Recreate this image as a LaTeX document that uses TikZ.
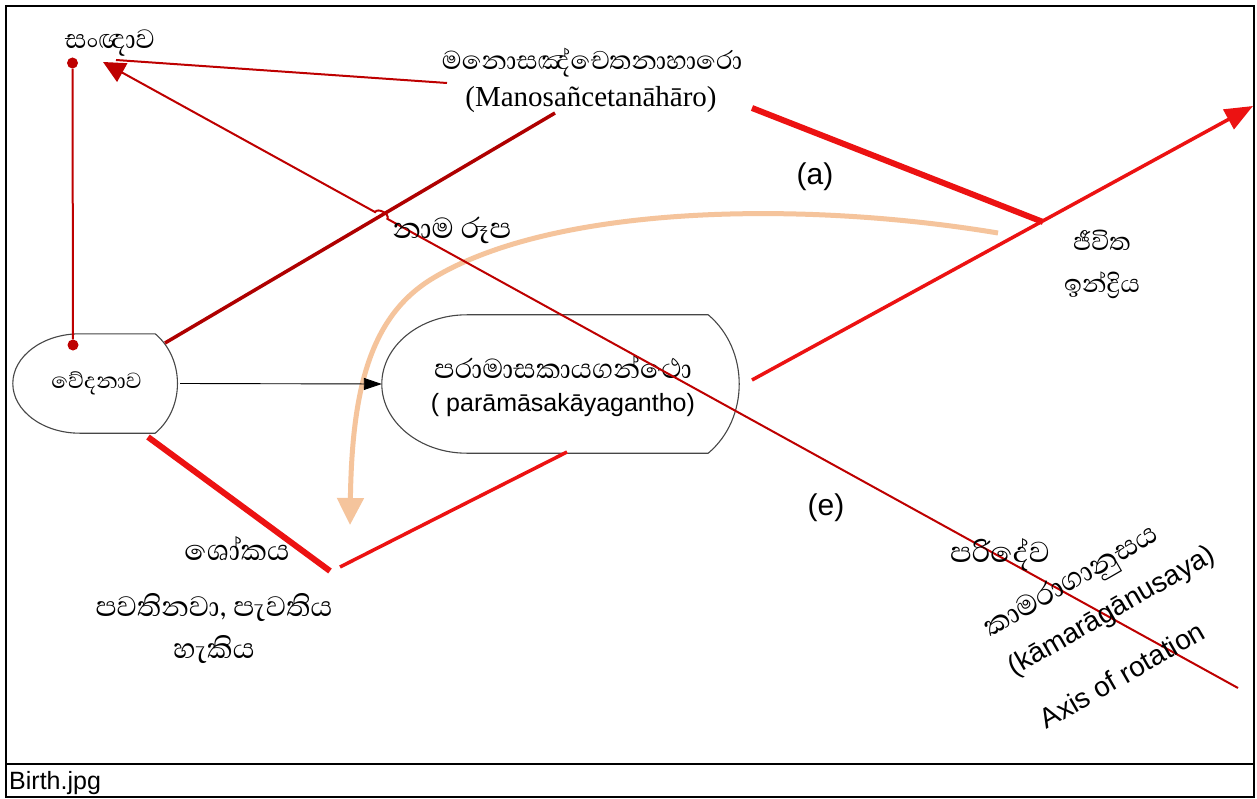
\documentclass[tikz,border=0pt]{standalone}
\usepackage{fontspec}
\setmainfont{Liberation Sans}
\newfontfamily\timesrm{Liberation Serif}
\newfontfamily\sinhalafont[Script=Sinhala]{Abhaya Libre}
\usetikzlibrary{arrows.meta,calc}

\definecolor{axisred}{RGB}{190,0,0}
\definecolor{linered}{RGB}{236,18,18}
\definecolor{peach}{RGB}{245,196,156}
\definecolor{shapegray}{RGB}{70,70,70}

\begin{document}
\begin{tikzpicture}[x=1pt,y=1pt,
  sin/.style={font=\sinhalafont\fontsize{#1}{42}\selectfont, inner sep=0pt, align=center},
  sin/.default=36,
  lat/.style={font=\fontsize{#1}{#1}\selectfont, inner sep=0pt},
  lat/.default=28,
  blob/.style={draw=none, rectangle, inner sep=0pt},
  outline/.style={draw=shapegray, line width=1.1pt, fill=white},
  dot/.style={circle, fill=axisred, inner sep=0pt, minimum size=11pt},
  thinred/.style={draw=axisred, line width=2pt},
  darkline/.style={draw=axisred!92!black, line width=3.5pt},
  boldred/.style={draw=linered, line width=6pt},
  redline/.style={draw=linered, line width=3.5pt},
  peachline/.style={draw=peach, line width=5pt}
]
\useasboundingbox (0,0) rectangle (1257,-799);
\fill[white] (0,0) rectangle (1257,-799);
\draw[line width=2pt] (6,-6) rectangle (1254,-797);
\draw[line width=2pt] (6,-764) -- (1254,-764);
\node[lat=25, anchor=base west] (caption) at (9,-789) {Birth.jpg};

% the two rounded boxes
\node[blob, minimum width=167pt, minimum height=99pt] (ved) at (96.5,-383.5) {};
\node[blob, minimum width=360pt, minimum height=138pt] (par) at (562,-384) {};
\foreach \n/\rx/\bx/\ry in {ved/67/25/49.5, par/85/34/69}
  \draw[outline] ($(\n.north west)+(\rx,0)$) -- ($(\n.north east)+(-\bx,0)$)
    to[bend left=50] ($(\n.south east)+(-\bx,0)$) -- ($(\n.south west)+(\rx,0)$)
    .. controls +(-0.552*\rx,0) and +(0,-0.552*\ry) .. (\n.west)
    .. controls +(0,0.552*\ry) and +(-0.552*\rx,0) .. ($(\n.north west)+(\rx,0)$) -- cycle;
\node[sin=28] (vedtxt) at (ved.center) {වේදනාව};
\node[sin, font=\fontsize{25}{33}\selectfont] (partxt) at (563,-386)
  {{\sinhalafont\fontsize{35}{33}\selectfont පරාමාසකායගන්ථො}\\( parāmāsakāyagantho)};

% free ends of the lines
\coordinate (sannatip) at (103,-62);
\coordinate (manosend) at (447,-83);
\coordinate (axisend) at (1238,-688);
\coordinate (vedup) at (165,-343);
\coordinate (manosdn) at (555,-113);
\coordinate (astart) at (752,-108);
\coordinate (jv) at (1043,-222);
\coordinate (parright) at (752,-380);
\coordinate (jvtip) at (1253,-106);
\coordinate (vedlow) at (148,-437);
\coordinate (sokaA) at (330,-571);
\coordinate (sokaB) at (340,-567);
\coordinate (parlow) at (567,-452);
\coordinate (pstart) at (998,-233);
\coordinate (pend) at (350,-525);
\coordinate (hop) at (intersection of axisend--sannatip and vedup--manosdn);

\node[dot] (d1) at (72.5,-63) {};
\node[dot] (d2) at (73,-345) {};
\draw[thinred] (d1) -- (d2);

\draw[peachline, -{Triangle[length=27pt,width=26pt]}] (pstart)
  .. controls (800,-200) and (550,-205) .. (430,-280)
  .. controls (370,-318) and (352,-390) .. (pend);
\draw[line width=0.9pt, -{Triangle[length=18pt,width=12pt]}] (ved.east) -- (par.west);

\draw[darkline] (vedup) -- (manosdn);
\draw[thinred] (manosend) -- ($(sannatip)+(13,2)$);
\draw[thinred, -{Triangle[length=22pt,width=21pt]}] (axisend) -- ($(hop)!7pt!(axisend)$)
  to[bend right=90] ($(hop)!7pt!(sannatip)$) -- (sannatip);

\draw[boldred] (astart) -- (jv);
\draw[redline, -{Triangle[length=28pt,width=22pt]}] (parright) -- (jvtip);
\draw[boldred] (vedlow) -- (sokaA);
\draw[redline] (sokaB) -- (parlow);

% labels
\node[sin=34] (sanna) at (110,-43) {සංඥාව};
\node[sin=33] (manos1) at (592,-63) {මනොසඤ්චෙතනාහාරො};
\node[lat, font=\timesrm\fontsize{29}{29}\selectfont] (manos2) at (591,-100) {(Manosañcetanāhāro)};
\node[sin=37] (nama) at (452,-230) {නාම රූප};
\node[lat=30] (la) at (815,-177) {(a)};
\node[lat=30] (le) at (826,-508) {(e)};
\node[sin=32] (jeev) at (1102,-264) {ජීවිත\\ඉන්ද්^^^^200dරිය};
\node[sin=37] (soka) at (237,-549) {ශෝකය};
\node[sin] (pavat) at (214,-629) {පවතිනවා, පැවතිය\\හැකිය};
\node[sin=37] (paride) at (1000,-555) {පරිදේව};
\node[sin=37, rotate=30] (kama1) at (1072,-583) {කාමරාගානුසය};
\node[lat, rotate=30] (kama2) at (1112,-612) {(kāmarāgānusaya)};
\node[lat, rotate=30] (axislbl) at (1122,-675) {Axis of rotation};
\end{tikzpicture}
\end{document}
